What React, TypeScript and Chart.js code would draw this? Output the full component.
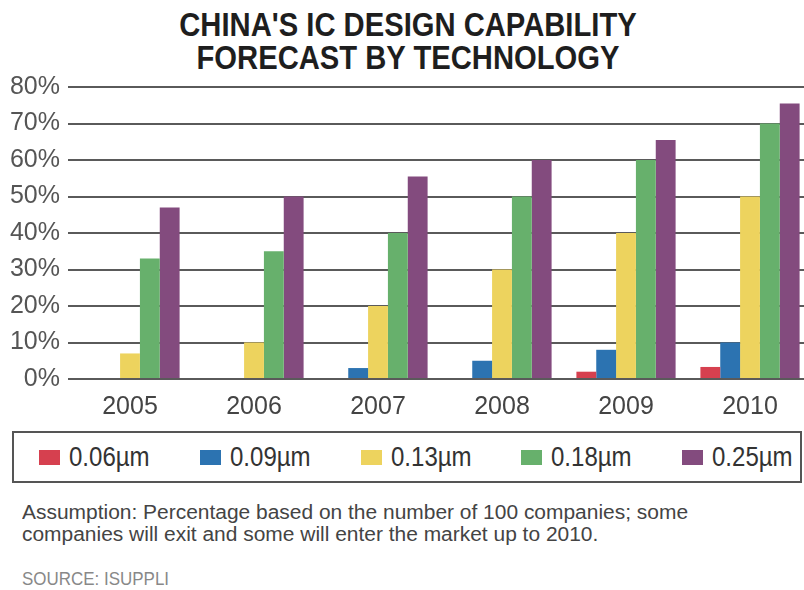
import React, { useEffect, useLayoutEffect, useRef, useState } from "react";
import { Chart, registerables } from "chart.js";

Chart.register(...registerables);

// Forecast years and process nodes
const years = ["2005", "2006", "2007", "2008", "2009", "2010"];
const nodeNames = ["0.06µm", "0.09µm", "0.13µm", "0.18µm", "0.25µm"];

// Share of companies (%) able to design at each node
const share006 = [0, 0, 0, 0, 2, 3.3];
const share009 = [0, 0, 3, 5, 8, 10];
const share013 = [7, 10, 20, 30, 40, 50];
const share018 = [33, 35, 40, 50, 60, 70];
const share025 = [47, 50, 55.5, 60, 65.5, 75.5];

const nodeColors = ["#d6404f", "#2c73b1", "#edd35e", "#67b06c", "#834b7e"];

const yMin = 0;
const yMax = 80;
const yStep = 10;

const titleLines = ["CHINA'S IC DESIGN CAPABILITY", "FORECAST BY TECHNOLOGY"];
const noteLines = [
  "Assumption: Percentage based on the number of 100 companies; some",
  "companies will exit and some will enter the market up to 2010.",
];
const sourceText = "SOURCE: ISUPPLI";

const SANS = '"Liberation Sans", Arial, Helvetica, sans-serif';

// Squeezes a block of text horizontally so its widest line spans `width` px.
function Squeezed({
  width,
  style,
  children,
}: {
  width: number;
  style: React.CSSProperties;
  children: React.ReactNode;
}) {
  const ref = useRef<HTMLDivElement | null>(null);
  const [k, setK] = useState(1);
  useLayoutEffect(() => {
    const el = ref.current;
    if (!el) return;
    const natural = el.scrollWidth;
    if (natural > 0) setK(width / natural);
  }, [width]);
  return (
    <div
      ref={ref}
      style={{
        ...style,
        whiteSpace: "nowrap",
        width: "max-content",
        transform: `scaleX(${k})`,
        transformOrigin: "left top",
      }}
    >
      {children}
    </div>
  );
}

export default function App() {
  const canvasRef = useRef<HTMLCanvasElement | null>(null);

  useEffect(() => {
    const canvas = canvasRef.current;
    if (!canvas) return;
    const series = [share006, share009, share013, share018, share025];
    const chart = new Chart(canvas, {
      type: "bar",
      data: {
        labels: years,
        datasets: series.map((values, i) => ({
          label: nodeNames[i],
          data: values,
          backgroundColor: nodeColors[i],
          borderWidth: 0,
          barPercentage: 1,
          categoryPercentage: 0.8,
        })),
      },
      options: {
        animation: false,
        responsive: false,
        devicePixelRatio: 1,
        layout: { padding: { top: 27, left: 0, right: 0, bottom: 0 } },
        plugins: {
          legend: { display: false },
          title: { display: false },
          tooltip: { enabled: false },
        },
        scales: {
          x: {
            grid: { display: false },
            border: { display: false },
            ticks: {
              font: { family: SANS, size: 25 },
              color: "#444",
              padding: 5,
            },
            afterFit: (scale: any) => {
              scale.height = 51;
            },
          },
          y: {
            min: yMin,
            max: yMax,
            border: { display: false },
            grid: { color: "#5a5a5a", lineWidth: 2, drawTicks: false },
            ticks: {
              stepSize: yStep,
              autoSkip: false,
              font: { family: SANS, size: 25 },
              color: "#555",
              padding: 8,
              callback: (v: any) => `${v}%`,
            },
            afterFit: (scale: any) => {
              scale.width = 68;
            },
          },
        },
      },
    });
    return () => chart.destroy();
  }, []);

  return (
    <div
      style={{
        position: "absolute",
        left: 0,
        top: 0,
        width: 804,
        height: 590,
        overflow: "hidden",
        background: "#fff",
        fontFamily: SANS,
      }}
    >
      <div
        style={{
          position: "absolute",
          left: 0,
          top: 8,
          width: 816,
          textAlign: "center",
          fontWeight: "bold",
          fontSize: 33,
          lineHeight: "33px",
          color: "#1e1e1e",
          transform: "scaleX(0.885)",
          transformOrigin: "center top",
        }}
      >
        {titleLines.map((t) => (
          <div key={t}>{t}</div>
        ))}
      </div>

      <canvas
        ref={canvasRef}
        width={812}
        height={370}
        style={{ position: "absolute", left: 0, top: 60 }}
      />

      <div
        style={{
          position: "absolute",
          left: 12,
          top: 431,
          width: 790,
          height: 52,
          boxSizing: "border-box",
          border: "2px solid #555",
        }}
      />
      {nodeNames.map((name, i) => (
        <div
          key={name}
          style={{
            position: "absolute",
            left: 39 + i * 160.75,
            top: 441,
            height: 33,
            display: "flex",
            alignItems: "center",
            whiteSpace: "nowrap",
          }}
        >
          <span
            style={{
              display: "inline-block",
              width: 21,
              height: 15,
              background: nodeColors[i],
              marginRight: 9,
            }}
          />
          <span
            style={{
              display: "inline-block",
              fontSize: 27,
              lineHeight: "33px",
              color: "#333",
              transform: "scaleX(0.89)",
              transformOrigin: "left center",
            }}
          >
            {name}
          </span>
        </div>
      ))}

      <div style={{ position: "absolute", left: 22, top: 501 }}>
        <Squeezed width={666} style={{ fontSize: 19.5, lineHeight: "22px", color: "#444" }}>
          {noteLines.map((t) => (
            <div key={t}>{t}</div>
          ))}
        </Squeezed>
      </div>
      <div style={{ position: "absolute", left: 22, top: 569 }}>
        <Squeezed width={147} style={{ fontSize: 18, lineHeight: "20px", color: "#888" }}>
          {sourceText}
        </Squeezed>
      </div>
    </div>
  );
}
